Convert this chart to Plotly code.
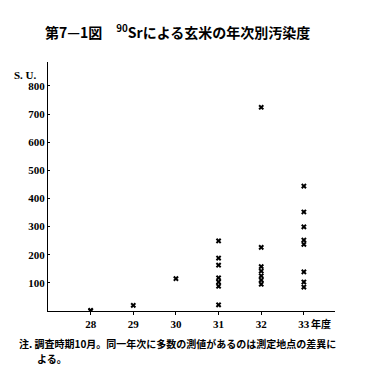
import plotly.graph_objects as go

years = [28, 29, 30, 31, 32, 33]
tick_labels = ["<b>28</b>", "<b>29</b>", "<b>30</b>", "<b>31</b>", "<b>32</b>", "<b>33</b>"]
y_ticks = [100, 200, 300, 400, 500, 600, 700, 800]
y_tick_labels = ["<b>%d</b>" % v for v in y_ticks]
values_28 = [0, 2]
values_29 = [20]
values_30 = [115]
values_31 = [249, 188, 163, 118, 103, 88, 22]
values_32 = [724, 226, 158, 142, 125, 110, 95]
values_33 = [444, 352, 299, 252, 237, 139, 103, 85]

series = [values_28, values_29, values_30, values_31, values_32, values_33]
xs, ys = [], []
for yr, vals in zip(years, series):
    for v in vals:
        xs.append(yr)
        ys.append(v)

fig = go.Figure()
fig.add_trace(go.Scatter(
    x=xs, y=ys, mode="markers",
    marker=dict(symbol="x", size=5, color="black", line=dict(width=0)),
    showlegend=False, hoverinfo="skip"))

tick_font = dict(family="Liberation Serif", size=11, color="black")

W, H = 378, 369
l, r, t, b = 48, 43, 62, 58
pw, ph = W - l - r, H - t - b

def px(x):
    return (x - l) / pw

def py(y):
    return (H - b - y) / ph

fig.update_layout(
    width=W, height=H,
    margin=dict(l=l, r=r, t=t, b=b),
    paper_bgcolor="white", plot_bgcolor="white",
    xaxis=dict(range=[27, 33.73], tickmode="array", tickvals=years, ticktext=tick_labels,
               showgrid=False, zeroline=False, showline=True, linecolor="black", linewidth=1.2,
               ticks="outside", ticklen=3, tickcolor="black", tickfont=tick_font),
    yaxis=dict(range=[0, 885], tickmode="array", tickvals=y_ticks, ticktext=y_tick_labels,
               showgrid=False, zeroline=False, showline=True, linecolor="black", linewidth=1.2,
               ticks="inside", ticklen=2, tickcolor="black", tickfont=tick_font),
    annotations=[
        dict(text="<b>第7—1図　<sup>90</sup>Srによる玄米の年次別汚染度</b>", x=px(43), y=py(31),
             xref="paper", yref="paper", showarrow=False, xanchor="left", yanchor="middle",
             font=dict(family="Noto Sans CJK JP", size=14, color="black")),
        dict(text="<b>S. U.</b>", x=px(12), y=py(75), xref="paper", yref="paper",
             showarrow=False, xanchor="left", yanchor="middle",
             font=dict(family="Liberation Serif", size=11, color="black")),
        dict(text="<b>年度</b>", x=33, y=0, xref="x", yref="y", xshift=5, yshift=-12,
             showarrow=False, xanchor="left", yanchor="middle",
             font=dict(family="Noto Sans CJK JP", size=10, color="black")),
        dict(text="<b>注. 調査時期10月。同一年次に多数の測値があるのは測定地点の差異に</b>",
             x=px(17), y=py(343), xref="paper", yref="paper",
             showarrow=False, xanchor="left", yanchor="middle",
             font=dict(family="Noto Sans CJK JP", size=10, color="black")),
        dict(text="<b>よる。</b>", x=px(35), y=py(358.5), xref="paper", yref="paper",
             showarrow=False, xanchor="left", yanchor="middle",
             font=dict(family="Noto Sans CJK JP", size=10, color="black")),
    ],
)

fig.write_html("out.html")
